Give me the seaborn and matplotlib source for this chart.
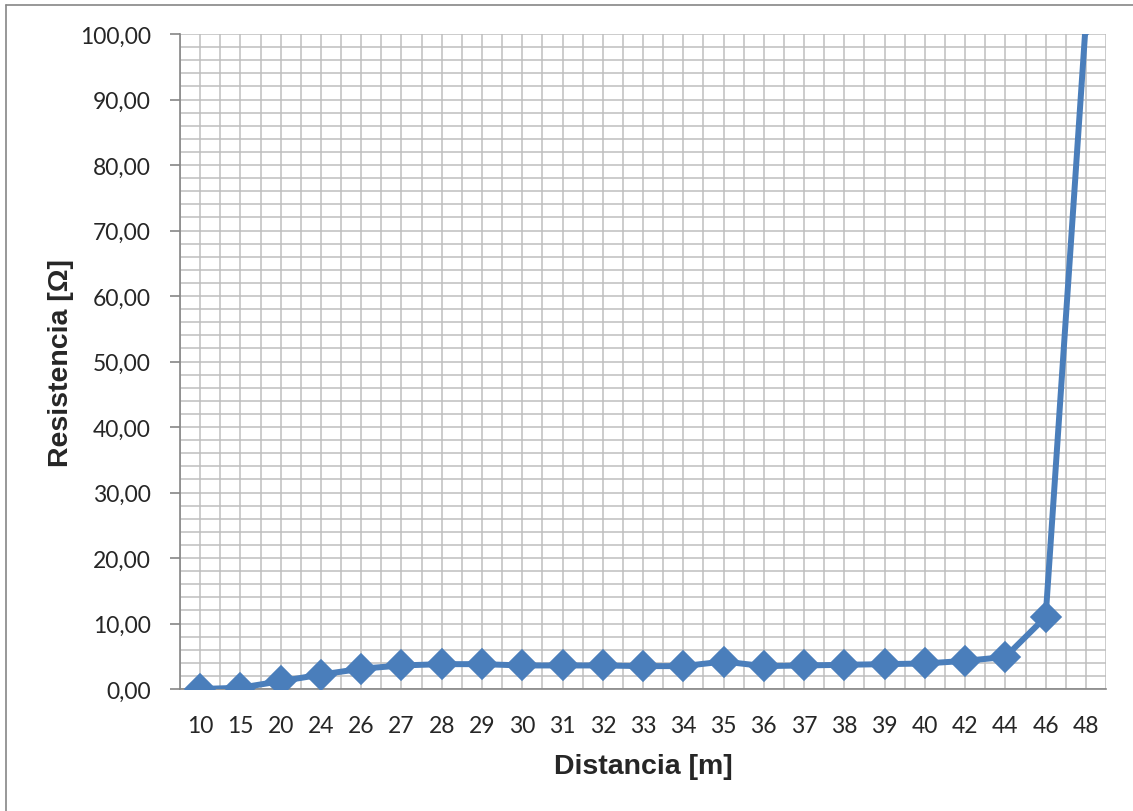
import matplotlib
matplotlib.use("Agg")
import matplotlib.pyplot as plt
import seaborn as sns
import pandas as pd
from matplotlib.ticker import MultipleLocator, FuncFormatter, FixedLocator
from matplotlib.lines import Line2D

# -----------------------------
# Data
# -----------------------------
distancia = ["10", "15", "20", "24", "26", "27", "28", "29", "30", "31", "32", "33",
             "34", "35", "36", "37", "38", "39", "40", "42", "44", "46", "48"]
resistencia = [0.0, 0.2, 1.2, 2.2, 3.1, 3.6, 3.8, 3.8, 3.6, 3.6, 3.6, 3.5,
               3.5, 4.2, 3.5, 3.6, 3.7, 3.8, 3.9, 4.3, 4.9, 11.0, 102.0]

df = pd.DataFrame({"Distancia": distancia, "Resistencia": resistencia})

# -----------------------------
# Setup
# -----------------------------
sns.set_style("white")
plt.rcParams["font.family"] = ["Liberation Sans", "DejaVu Sans"]

fig = plt.figure(figsize=(11.33, 8.12), dpi=100)
ax = fig.add_axes([0.1589, 0.1502, 0.8173, 0.8067])

sns.pointplot(data=df, x="Distancia", y="Resistencia", order=distancia,
              color="#4A7EBB", markers="D", markersize=13, linewidth=4.3,
              errorbar=None, ax=ax)
for ln in ax.lines:
    ln.set_clip_on(True)
    ln.set_zorder(3)

n = len(distancia)
ax.set_xlim(-0.5, n - 0.5)
ax.set_ylim(0, 100)

# grid: majors at categories, minors between
ax.xaxis.set_minor_locator(FixedLocator([i - 0.5 for i in range(n + 1)]))
ax.yaxis.set_major_locator(MultipleLocator(10))
ax.yaxis.set_minor_locator(MultipleLocator(2))
ax.yaxis.set_major_formatter(FuncFormatter(lambda v, p: f"{v:.2f}".replace(".", ",")))
ax.grid(True, which="both", color="#BEBEBE", linewidth=1.1, zorder=0)
ax.set_axisbelow(True)

for s in ["top", "right"]:
    ax.spines[s].set_visible(False)
for s in ["left", "bottom"]:
    ax.spines[s].set_color("#868686")
    ax.spines[s].set_linewidth(1.2)

ax.tick_params(axis="y", which="major", length=7, color="#868686", width=1.2,
               direction="out", left=True, pad=14)
ax.tick_params(axis="y", which="minor", length=0)
ax.tick_params(axis="x", which="both", length=0, pad=19)
for lab in ax.get_xticklabels() + ax.get_yticklabels():
    lab.set_fontfamily(["Lato", "DejaVu Sans"])
    lab.set_fontsize(16.5)

ax.set_xlabel("Distancia [m]", fontsize=20.5, fontweight="bold", labelpad=12)
ax.set_ylabel("Resistencia [Ω]", fontsize=20.5, fontweight="bold", labelpad=4)

# outer chart border
fig.add_artist(Line2D([6 / 1133, 6 / 1133], [0, 1 - 6 / 812], transform=fig.transFigure,
                      color="#868686", linewidth=1.2))
fig.add_artist(Line2D([6 / 1133, 1], [1 - 6 / 812, 1 - 6 / 812], transform=fig.transFigure,
                      color="#868686", linewidth=1.2))

plt.savefig("out.png", dpi=100)
plt.close()
